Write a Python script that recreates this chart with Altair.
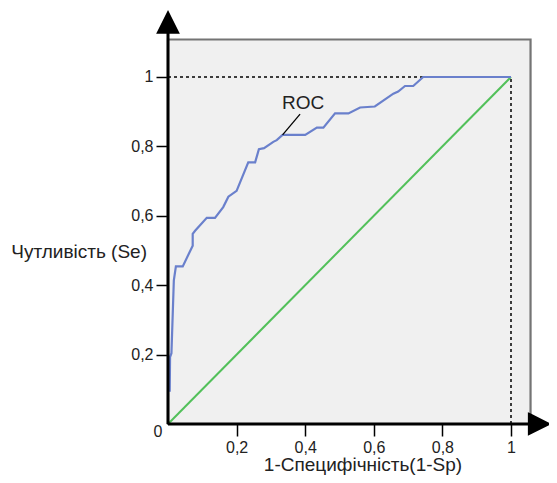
import altair as alt
import pandas as pd

# ROC curve points (1-Sp, Se)
roc_x = [0.005, 0.006, 0.010, 0.017, 0.023, 0.043, 0.072, 0.072, 0.079, 0.113, 0.137,
         0.161, 0.176, 0.200, 0.234, 0.254, 0.265, 0.280, 0.307, 0.317, 0.334, 0.400,
         0.434, 0.453, 0.487, 0.526, 0.560, 0.603, 0.657, 0.671, 0.691, 0.715, 0.744, 1.0]
roc_y = [0.093, 0.193, 0.204, 0.414, 0.454, 0.454, 0.514, 0.548, 0.557, 0.594, 0.594,
         0.625, 0.655, 0.672, 0.754, 0.754, 0.792, 0.795, 0.813, 0.818, 0.833, 0.833,
         0.854, 0.854, 0.895, 0.895, 0.912, 0.915, 0.952, 0.958, 0.974, 0.974, 1.0, 1.0]

diag_x = [0.0, 1.0]
diag_y = [0.0, 1.0]

tick_values = [0.2, 0.4, 0.6, 0.8, 1.0]

x_title = "1-Специфічність(1-Sp)"
y_title = "Чутливість (Se)"
curve_label = "ROC"

FONT = "Liberation Sans"
W, H = 541, 467
# scale domains chosen so that (0,0) lands on the drawn axes
XDOM = [-0.4665, 1.1108]
YDOM = [-0.147, 1.1988]

xs = alt.Scale(domain=XDOM, nice=False, zero=False)
ys = alt.Scale(domain=YDOM, nice=False, zero=False)

label_expr = "datum.value == 1 ? '1' : replace(format(datum.value, '.1f'), '.', ',')"

# background panel
panel = alt.Chart(pd.DataFrame({"x": [0.0], "x2": [1.057], "y": [0.0], "y2": [1.108]})).mark_rect(
    fill="#f0f0f0", stroke="#747474", strokeWidth=2.2
).encode(
    x=alt.X("x:Q", scale=xs, axis=alt.Axis(
        values=tick_values, labelExpr=label_expr, offset=-51, domain=False, grid=False,
        tickSize=12, tickWidth=1.5, tickColor="black", labelFontSize=16, labelFont=FONT,
        labelColor="#222", labelPadding=3, title=None, labelFlush=False)),
    x2="x2:Q",
    y=alt.Y("y:Q", scale=ys, axis=alt.Axis(
        values=tick_values, labelExpr=label_expr, offset=-160, domain=False, grid=False,
        tickSize=12, tickWidth=1.5, tickColor="black", labelFontSize=16, labelFont=FONT,
        labelColor="#222", labelPadding=3, title=None, labelFlush=False)),
    y2="y2:Q",
)

dash_df = pd.DataFrame({"x": [0.0, 1.0], "x2": [1.0, 1.0], "y": [1.0, 0.0], "y2": [1.0, 1.0]})
dashes = alt.Chart(dash_df).mark_rule(color="black", strokeDash=[3, 3], strokeWidth=1.5).encode(
    x=alt.X("x:Q", scale=xs), x2="x2:Q", y=alt.Y("y:Q", scale=ys), y2="y2:Q")

diag = alt.Chart(pd.DataFrame({"x": diag_x, "y": diag_y})).mark_line(
    color="#52c05a", strokeWidth=2).encode(
    x=alt.X("x:Q", scale=xs), y=alt.Y("y:Q", scale=ys))

roc = alt.Chart(pd.DataFrame({"x": roc_x, "y": roc_y, "o": list(range(len(roc_x)))})).mark_line(
    color="#6a80cc", strokeWidth=2.2).encode(
    x=alt.X("x:Q", scale=xs), y=alt.Y("y:Q", scale=ys), order="o:Q")

leader = alt.Chart(pd.DataFrame({"x": [0.334], "x2": [0.385], "y": [0.833], "y2": [0.893]})).mark_rule(
    color="black", strokeWidth=1.3).encode(
    x=alt.X("x:Q", scale=xs), x2="x2:Q", y=alt.Y("y:Q", scale=ys), y2="y2:Q")

axes_df = pd.DataFrame({"x": [0.0, 0.0], "x2": [1.082, 0.0], "y": [0.0, 0.0], "y2": [0.0, 1.157]})
axes = alt.Chart(axes_df).mark_rule(color="black", strokeWidth=3).encode(
    x=alt.X("x:Q", scale=xs), x2="x2:Q", y=alt.Y("y:Q", scale=ys), y2="y2:Q")

arrow_up = alt.Chart(pd.DataFrame({"x": [0.0], "y": [1.157]})).mark_point(
    shape="M-1,1L1,1L0,-1Z", filled=True, fill="black", stroke="black", size=420, opacity=1).encode(
    x=alt.X("x:Q", scale=xs), y=alt.Y("y:Q", scale=ys))
arrow_right = alt.Chart(pd.DataFrame({"x": [1.082], "y": [0.0]})).mark_point(
    shape="M-1,-1L1,0L-1,1Z", filled=True, fill="black", stroke="black", size=420, opacity=1).encode(
    x=alt.X("x:Q", scale=xs), y=alt.Y("y:Q", scale=ys))

texts_df = pd.DataFrame({
    "x": [-0.029, 0.5685, -0.0612, 0.394],
    "y": [-0.023, -0.1354, 0.495, 0.926],
    "t": ["0", x_title, y_title, curve_label],
    "s": [16, 19, 19, 19],
    "a": ["center", "center", "right", "center"],
    "b": ["middle", "alphabetic", "middle", "middle"],
})
def txt(i):
    r = texts_df.iloc[[i]]
    return alt.Chart(r).mark_text(
        font=FONT, fontSize=int(r["s"].iloc[0]), align=r["a"].iloc[0],
        baseline=r["b"].iloc[0], color="#222"
    ).encode(x=alt.X("x:Q", scale=xs), y=alt.Y("y:Q", scale=ys), text="t:N")

chart = alt.layer(
    panel, dashes, diag, roc, leader, axes, arrow_up, arrow_right,
    txt(0), txt(1), txt(2), txt(3)
).properties(
    width=W, height=H, autosize=alt.AutoSizeParams(type="none"), padding=0
).configure_view(stroke=None)

chart.save("out.html", embed_options={"renderer": "svg", "actions": False})
